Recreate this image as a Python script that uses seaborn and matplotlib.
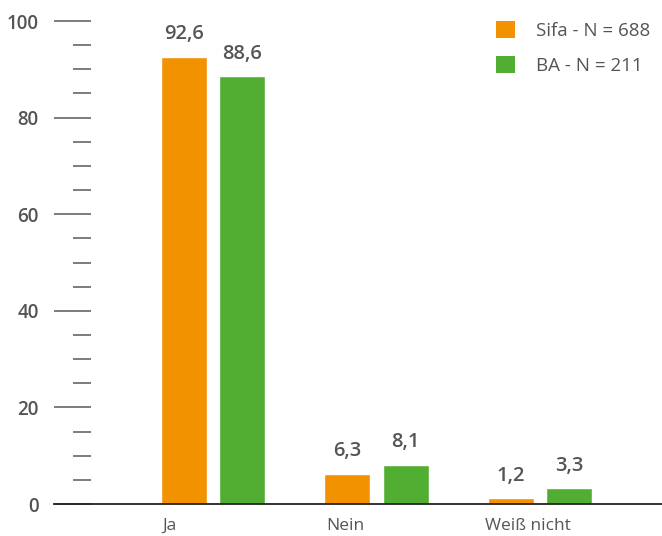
import matplotlib
matplotlib.use("Agg")
import matplotlib.pyplot as plt
import seaborn as sns
import pandas as pd
from matplotlib.ticker import MultipleLocator
from matplotlib.patches import Patch

categories = ["Ja", "Nein", "Weiß nicht"]
series_names = ["Sifa - N = 688", "BA - N = 211"]
sifa_values = [92.6, 6.3, 1.2]
ba_values = [88.6, 8.1, 3.3]
y_ticks = [0, 20, 40, 60, 80, 100]

colors = ["#F39200", "#52AE32"]
text_grey = "#555555"

df = pd.DataFrame({
    "Kategorie": categories * 2,
    "Gruppe": [series_names[0]] * 3 + [series_names[1]] * 3,
    "Wert": sifa_values + ba_values,
})

sns.set_theme(style="white")
plt.rcParams["font.family"] = ["Open Sans", "DejaVu Sans"]

W, H = 662, 536
fig = plt.figure(figsize=(W / 100, H / 100), dpi=100)
ax = fig.add_axes([54 / W, 32 / H, (W - 54) / W, (H - 32) / H])

sns.barplot(data=df, x="Kategorie", y="Wert", hue="Gruppe",
            palette=colors, width=0.712, gap=0.207, ax=ax,
            saturation=1, legend=False)

ax.set_xlim(-0.972, 2.746)
ax.set_ylim(0, 104.35)

# value labels above each bar
for container in ax.containers:
    ax.bar_label(container, labels=[f"{v:.1f}".replace(".", ",") for v in container.datavalues],
                 padding=9, fontsize=14.5, fontweight="semibold", color=text_grey)

# spines: only the baseline
for s in ["top", "right", "left"]:
    ax.spines[s].set_visible(False)
ax.spines["bottom"].set_color("#222222")
ax.spines["bottom"].set_linewidth(1.3)

# y ticks drawn left of an invisible spine placed at x=91px
ax.spines["left"].set_position(("axes", (91 - 54) / (W - 54)))
ax.yaxis.set_major_locator(MultipleLocator(20))
ax.yaxis.set_minor_locator(MultipleLocator(5))
ax.set_yticks(y_ticks)
ax.tick_params(axis="y", which="major", direction="out", length=37 * 0.72, width=1.2,
               color="#666666", left=True, pad=11, labelsize=13.5, labelcolor=text_grey)
ax.tick_params(axis="y", which="minor", direction="out", length=18 * 0.72, width=1.2,
               color="#666666", left=True)
for lbl in ax.get_yticklabels():
    lbl.set_fontweight("semibold")

# category labels
ax.set_xticks([-0.263, 0.807, 1.927])
ax.set_xticklabels(categories)
ax.tick_params(axis="x", length=0, pad=10, labelsize=12.5, labelcolor=text_grey)
ax.set_xlabel("")
ax.set_ylabel("")
ax.grid(False)

# legend
handles = [Patch(facecolor=c, edgecolor="none") for c in colors]
leg = ax.legend(handles, series_names, loc="upper right",
                bbox_to_anchor=(1.0, 1.0 - 9 / 504),
                frameon=False, fontsize=13.5, handlelength=1.0, handleheight=1.0,
                handletextpad=1.1, labelspacing=0.85, borderaxespad=0.25)
for t in leg.get_texts():
    t.set_color(text_grey)

fig.savefig("out.png", dpi=100)
